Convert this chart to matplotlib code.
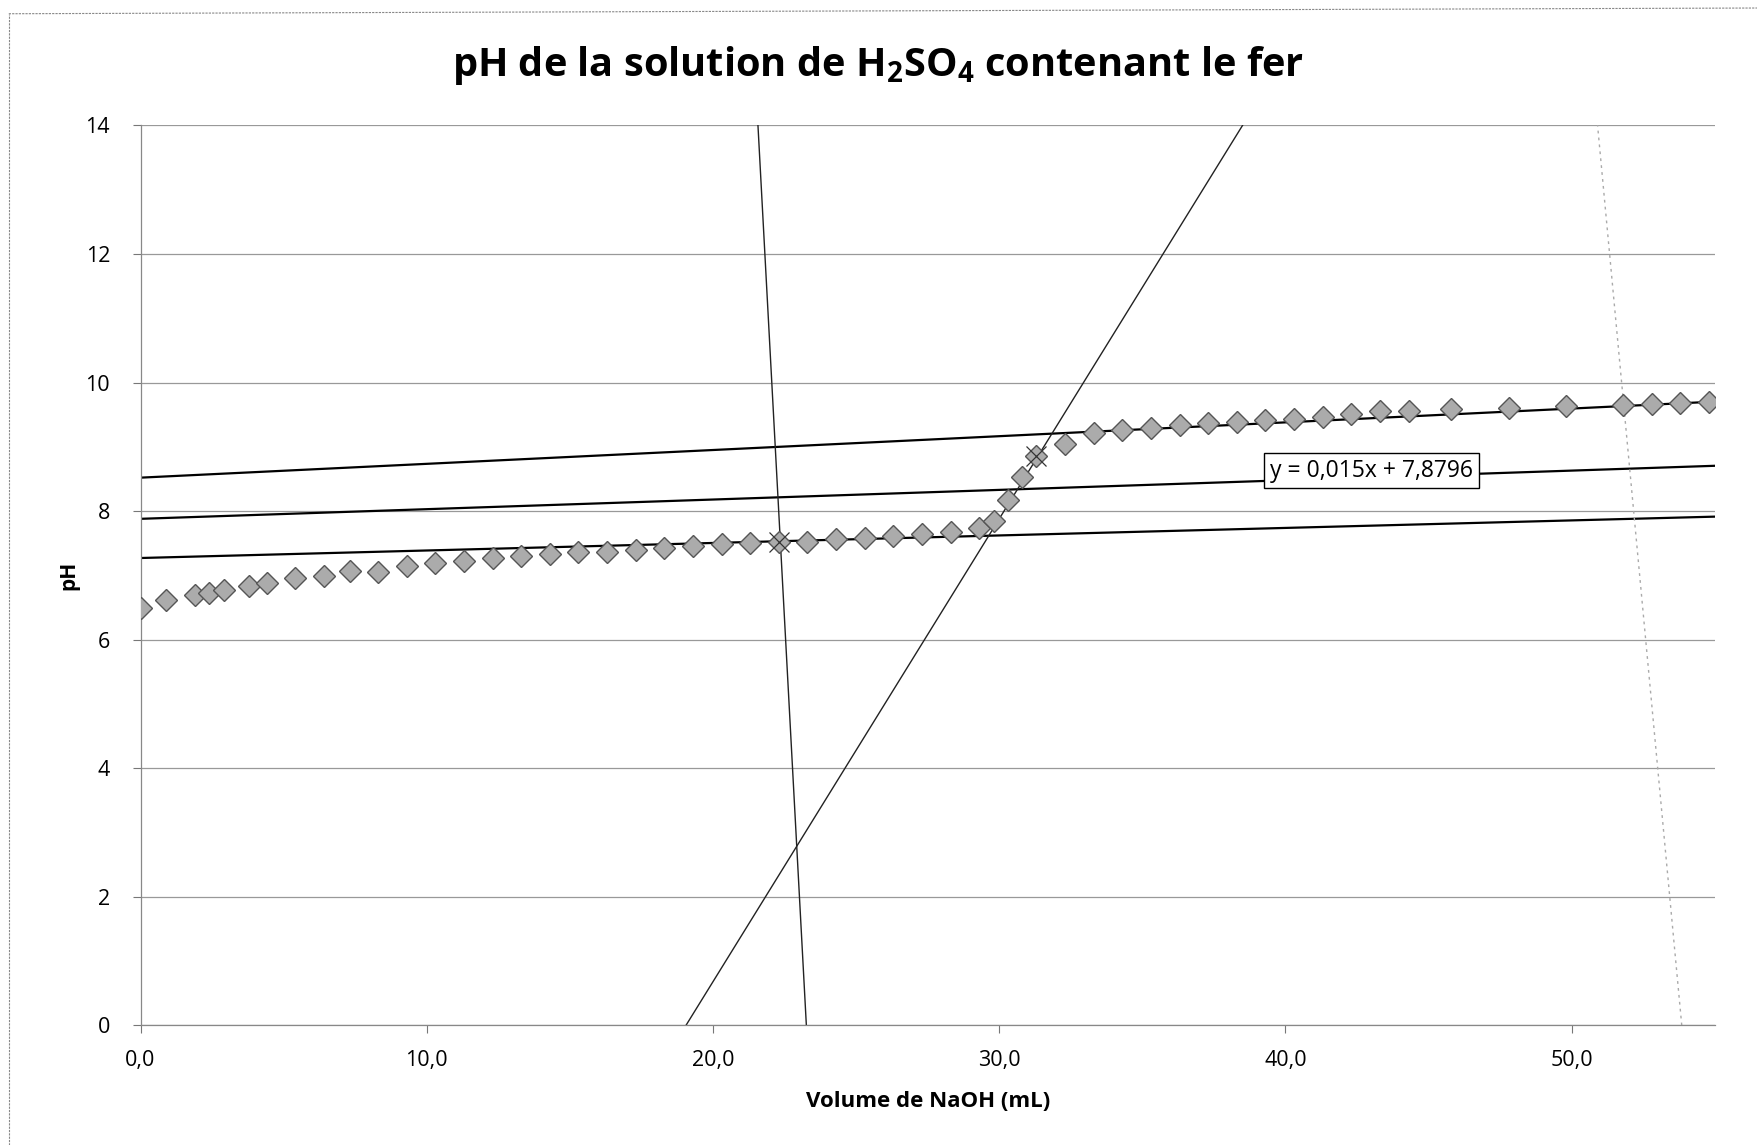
import matplotlib.pyplot as plt
from matplotlib.lines import Line2D
import numpy as np

plt.rcParams['font.family'] = ['Open Sans', 'DejaVu Sans']
plt.rcParams['mathtext.fontset'] = 'custom'
plt.rcParams['mathtext.rm'] = 'Open Sans'
plt.rcParams['mathtext.bf'] = 'Open Sans:bold'

# titration data
volume = [0.0, 0.9, 1.9, 2.4, 2.9, 3.8, 4.4, 5.4, 6.4, 7.3, 8.3, 9.3, 10.3, 11.3,
          12.3, 13.3, 14.3, 15.3, 16.3, 17.3, 18.3, 19.3, 20.3, 21.3, 22.3, 23.3,
          24.3, 25.3, 26.3, 27.3, 28.3, 29.3, 29.8, 30.3, 30.8, 31.3, 32.3, 33.3,
          34.3, 35.3, 36.3, 37.3, 38.3, 39.3, 40.3, 41.3, 42.3, 43.3, 44.3, 45.8,
          47.8, 49.8, 51.8, 52.8, 53.8, 54.8]
ph = [6.49, 6.61, 6.70, 6.73, 6.78, 6.84, 6.88, 6.96, 6.99, 7.07, 7.06, 7.15, 7.20, 7.22,
      7.27, 7.30, 7.34, 7.36, 7.37, 7.40, 7.43, 7.46, 7.49, 7.50, 7.52, 7.52,
      7.57, 7.58, 7.61, 7.64, 7.68, 7.73, 7.84, 8.17, 8.53, 8.86, 9.04, 9.22,
      9.26, 9.30, 9.34, 9.37, 9.39, 9.42, 9.44, 9.47, 9.51, 9.55, 9.56, 9.59,
      9.60, 9.63, 9.65, 9.67, 9.68, 9.69]

# points marked with a star
star_x = [22.3, 31.3]
star_y = [7.52, 8.86]

# drawn lines: slope, intercept
upper_line = [0.0215, 8.52]
middle_line = [0.015, 7.8796]
lower_line = [0.0117, 7.27]
steep_line = [0.72, -13.72]
vertical_line = [-8.28, 192.6]
dotted_line = [-4.76, 256.3]

x_ticks = [0, 10, 20, 30, 40, 50]
x_labels = ['0,0', '10,0', '20,0', '30,0', '40,0', '50,0']
y_ticks = [0, 2, 4, 6, 8, 10, 12, 14]

fig = plt.figure(figsize=(17.57, 11.45), dpi=100)
ax = fig.add_axes([0.08, 0.1045, 0.896, 0.786])

xx = np.linspace(0, 55, 200)
for slope, icpt in [upper_line, middle_line, lower_line]:
    ax.plot(xx, slope * xx + icpt, color='black', lw=1.6, zorder=2)

for slope, icpt in [steep_line, vertical_line]:
    x0, x1 = -icpt / slope, (14 - icpt) / slope
    ax.plot([x0, x1], [0, 14], color='#222222', lw=1.0, zorder=2)

slope, icpt = dotted_line
ax.plot([-icpt / slope, (14 - icpt) / slope], [0, 14], color='#aaaaaa',
        lw=1.0, ls=(0, (2, 3)), zorder=2)

ax.plot(volume, ph, ls='none', marker='D', ms=11, mfc='#ababab',
        mec='#555555', mew=1.0, zorder=3)
ax.plot(star_x, star_y, ls='none', marker='x', ms=14, mec='#333333',
        mew=0.9, zorder=4)

ax.text(43.0, 8.63, 'y = 0,015x + 7,8796', fontsize=16.5, ha='center', va='center',
        bbox=dict(boxstyle='square,pad=0.25', fc='white', ec='black', lw=1.0), zorder=5)

ax.set_xlim(0, 55)
ax.set_ylim(0, 14)
ax.set_xticks(x_ticks)
ax.set_xticklabels(x_labels)
ax.set_yticks(y_ticks)
ax.tick_params(axis='both', labelsize=15.5, length=6, width=0.8, color='#777777', pad=12)
ax.tick_params(axis='y', pad=16)
ax.grid(axis='y', color='#999999', lw=0.9)
ax.set_axisbelow(True)
for side in ['top', 'right']:
    ax.spines[side].set_visible(False)
for side in ['left', 'bottom']:
    ax.spines[side].set_color('#888888')
    ax.spines[side].set_linewidth(0.9)

ax.set_xlabel('Volume de NaOH (mL)', fontsize=16, fontweight='bold', labelpad=14)
ax.set_ylabel('pH', fontsize=15, fontweight='bold', labelpad=4)
fig.suptitle(r'pH de la solution de H$_\mathbf{2}$SO$_\mathbf{4}$ contenant le fer',
             fontsize=28.6, fontweight='bold', y=0.962)

# chart area border from the scan
fig.add_artist(Line2D([0.005, 1.0], [0.988, 0.993], color='#888888', lw=0.8, ls=(0, (2, 1))))
fig.add_artist(Line2D([0.005, 0.005], [0.0, 0.988], color='#888888', lw=0.8, ls=(0, (2, 1))))

fig.savefig('out.png', dpi=100)
